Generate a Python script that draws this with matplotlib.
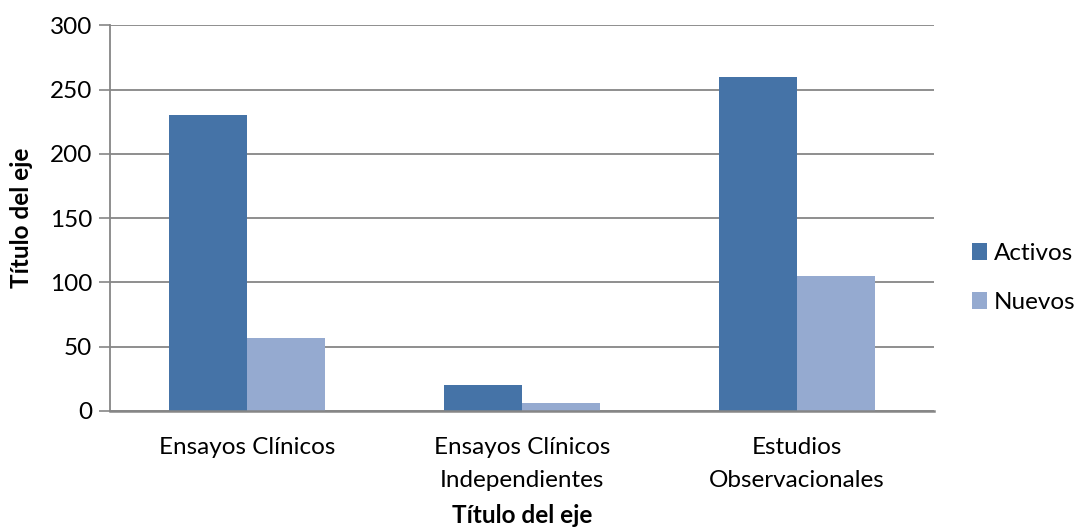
import numpy as np
import matplotlib
matplotlib.use('Agg')
import matplotlib.pyplot as plt

# data
categories = ['Ensayos Clínicos', 'Ensayos Clínicos\nIndependientes', 'Estudios\nObservacionales']
activos = [230, 20, 260]
nuevos = [57, 6, 105]

plt.rcParams['font.family'] = ['Lato', 'DejaVu Sans']
fs = 17.5

fig = plt.figure(figsize=(10.82, 5.29), dpi=100)
ax = fig.add_axes([0.1017, 0.2231, 0.7615, 0.7289])

x = np.arange(len(categories))
w = 0.284
ax.bar(x - w / 2, activos, width=w, color='#4573A7', label='Activos', zorder=3)
ax.bar(x + w / 2, nuevos, width=w, color='#95AAD0', label='Nuevos', zorder=3)

ax.set_xlim(-0.5, len(categories) - 0.5)
ax.set_ylim(0, 300)
ax.set_yticks(range(0, 301, 50))
ax.set_xticks(x)
ax.set_xticklabels(categories, fontsize=fs, linespacing=1.7)
ax.tick_params(axis='x', length=0, pad=19)
ax.tick_params(axis='y', length=8, width=1.2, color='#868686', labelsize=fs, pad=5)

ax.grid(axis='y', color='#868686', linewidth=1.3, zorder=0)
for s in ['top', 'right']:
    ax.spines[s].set_visible(False)
for s in ['left', 'bottom']:
    ax.spines[s].set_color('#868686')
ax.spines['left'].set_linewidth(1.3)
ax.spines['bottom'].set_linewidth(1.8)
ax.spines['bottom'].set_zorder(4)

ax.set_ylabel('Título del eje', fontsize=fs, fontweight='bold', labelpad=12)
ax.set_xlabel('Título del eje', fontsize=fs, fontweight='bold', labelpad=9)

ax.legend(loc='center left', bbox_to_anchor=(0.898, 0.4745), bbox_transform=fig.transFigure,
          frameon=False, fontsize=fs, handlelength=0.65, handleheight=0.65,
          handletextpad=0.25, labelspacing=1.15, borderaxespad=0, borderpad=0)

fig.savefig('out.png', dpi=100)
